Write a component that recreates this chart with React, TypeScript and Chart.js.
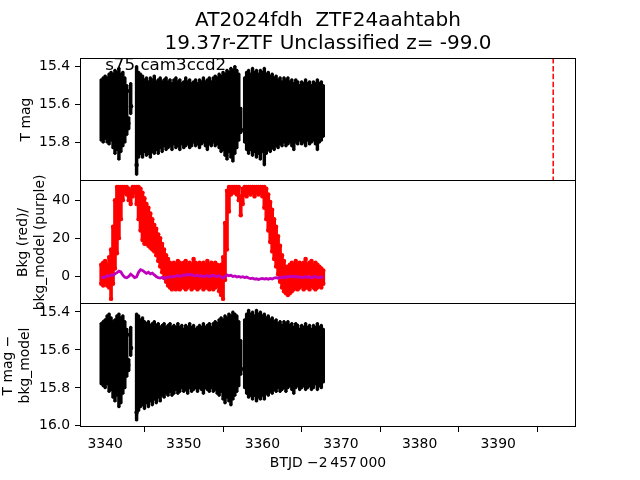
import React, { useEffect, useRef } from 'react';
import { Chart, registerables } from 'chart.js';

Chart.register(...registerables);

const FONT = "'DejaVu Sans', 'Liberation Sans', sans-serif";

// ---------------- text ----------------
const titleLines = ['AT2024fdh  ZTF24aahtabh', '19.37r-ZTF Unclassified z= -99.0'];
const annotationText = 's75 cam3ccd2';
const annotationPos = [3340, 15.42];
const xLabel = 'BTJD \u22122\u2009457\u2009000';
const topYLabel = 'T mag';
const midYLabel = ['Bkg (red)/', 'bkg_model (purple)'];
const botYLabel = ['T mag \u2212', 'bkg_model'];

// ---------------- ticks / ranges ----------------
const xTicks = [3340, 3350, 3360, 3370, 3380, 3390];
const xRange = [3336.8, 3399.9];
const magTicks = [15.4, 15.6, 15.8];
const magRange = [15.356, 16.004];
const bkgTicks = [0, 20, 40];
const bkgRange = [-14.7, 50.1];
const corrTicks = [15.4, 15.6, 15.8, 16.0];
const corrRange = [15.358, 16.006];
const discoveryTime = [3397.0];

// ---------------- data (0.25 d bins) ----------------
const binTimes = [
  3339.5, 3339.75, 3340, 3340.25, 3340.5, 3340.75, 3341, 3341.25, 3341.5, 3341.75,
  3342, 3342.25, 3342.5, 3342.75, 3343, 3343.25, 3343.5, 3343.75, 3344, 3344.25,
  3344.5, 3344.75, 3345, 3345.25, 3345.5, 3345.75, 3346, 3346.25, 3346.5, 3346.75,
  3347, 3347.25, 3347.5, 3347.75, 3348, 3348.25, 3348.5, 3348.75, 3349, 3349.25,
  3349.5, 3349.75, 3350, 3350.25, 3350.5, 3350.75, 3351, 3351.25, 3351.5, 3351.75,
  3352, 3352.25, 3352.5, 3352.75, 3353, 3353.25, 3353.5, 3353.75, 3354, 3354.25,
  3354.5, 3354.75, 3355, 3355.25, 3355.5, 3355.75, 3356, 3356.25, 3356.5, 3356.75,
  3357, 3357.25, 3357.5, 3357.75, 3358, 3358.25, 3358.5, 3358.75, 3359, 3359.25,
  3359.5, 3359.75, 3360, 3360.25, 3360.5, 3360.75, 3361, 3361.25, 3361.5, 3361.75,
  3362, 3362.25, 3362.5, 3362.75, 3363, 3363.25, 3363.5, 3363.75, 3364, 3364.25,
  3364.5, 3364.75, 3365, 3365.25, 3365.5, 3365.75, 3366, 3366.25, 3366.5, 3366.75,
  3367, 3367.25, 3367.5, 3367.75,
];

// T mag: brightest (top edge) and faintest (bottom edge) of error bars per bin
const magBright = [
  15.47, 15.46, 15.45, 15.46, 15.44, 15.43, 15.44, 15.42, 15.43, 15.41, 15.44, 15.43, 15.46, 15.50,
  15.67, 15.49, null, null, 15.40,
  15.43, 15.44, 15.45, 15.47, 15.46, 15.48, 15.46, 15.47, 15.45, 15.48, 15.47, 15.46, 15.48,
  15.47, 15.46, 15.48, 15.47, 15.49, 15.47, 15.46, 15.48, 15.47, 15.49, 15.48, 15.46, 15.48,
  15.47, 15.49, 15.48, 15.47, 15.49, 15.47, 15.48, 15.46, 15.48, 15.47, 15.46, 15.48, 15.46,
  15.45, 15.46, 15.44, 15.45, 15.43, 15.44, 15.42, 15.43, 15.41, 15.42, 15.40, 15.42, 15.44,
  15.62, null,
  15.46, 15.43, 15.42, 15.44, 15.41, 15.43, 15.42, 15.44, 15.42, 15.43, 15.41, 15.44, 15.43,
  15.45, 15.44, 15.46, 15.45, 15.47, 15.46, 15.48, 15.46, 15.47, 15.46, 15.48, 15.47, 15.49,
  15.47, 15.48, 15.50, 15.48, 15.49, 15.47, 15.49, 15.48, 15.50, 15.48, 15.49, 15.47, 15.49,
  15.48, 15.50,
];
const magFaint = [
  15.79, 15.80, 15.78, 15.80, 15.81, 15.79, 15.83, 15.86, 15.84, 15.89, 15.85, 15.82, 15.80, 15.76,
  15.73, 15.65, null, null, 15.97,
  15.88, 15.86, 15.88, 15.85, 15.87, 15.86, 15.88, 15.85, 15.86, 15.84, 15.86, 15.83, 15.85,
  15.82, 15.84, 15.83, 15.82, 15.84, 15.81, 15.83, 15.82, 15.84, 15.81, 15.83, 15.82, 15.81,
  15.83, 15.82, 15.80, 15.82, 15.81, 15.83, 15.81, 15.80, 15.82, 15.84, 15.81, 15.82, 15.80,
  15.82, 15.81, 15.83, 15.85, 15.84, 15.87, 15.89, 15.85, 15.88, 15.90, 15.86, 15.83, 15.79,
  15.75, null,
  15.80, 15.84, 15.86, 15.84, 15.87, 15.85, 15.88, 15.86, 15.89, 15.85, 15.92, 15.86, 15.84,
  15.85, 15.83, 15.84, 15.82, 15.83, 15.81, 15.82, 15.80, 15.82, 15.81, 15.80, 15.82, 15.84,
  15.80, 15.81, 15.79, 15.81, 15.80, 15.82, 15.79, 15.81, 15.80, 15.79, 15.81, 15.84, 15.80,
  15.79, 15.77,
];

// T mag - bkg_model
const corrBright = [
  15.46, 15.45, 15.44, 15.42, 15.41, 15.43, 15.45, 15.44, 15.42, 15.41, 15.43, 15.42, 15.45, 15.49,
  15.65, 15.48, null, null, 15.41,
  15.42, 15.44, 15.43, 15.45, 15.46, 15.45, 15.47, 15.46, 15.45, 15.47, 15.46, 15.48, 15.47,
  15.46, 15.48, 15.47, 15.46, 15.48, 15.47, 15.48, 15.46, 15.48, 15.47, 15.49, 15.47, 15.48,
  15.46, 15.48, 15.47, 15.49, 15.48, 15.47, 15.48, 15.46, 15.48, 15.47, 15.46, 15.48, 15.46,
  15.45, 15.46, 15.44, 15.43, 15.44, 15.42, 15.43, 15.41, 15.42, 15.40, 15.41, 15.42, 15.45,
  15.55, null,
  15.44, 15.41, 15.39, 15.41, 15.40, 15.42, 15.39, 15.41, 15.40, 15.42, 15.41, 15.43, 15.42,
  15.44, 15.43, 15.45, 15.44, 15.46, 15.45, 15.47, 15.45, 15.46, 15.45, 15.47, 15.46, 15.48,
  15.46, 15.47, 15.49, 15.47, 15.48, 15.46, 15.48, 15.47, 15.49, 15.47, 15.48, 15.46, 15.48,
  15.47, 15.49,
];
const corrFaint = [
  15.78, 15.79, 15.80, 15.78, 15.82, 15.81, 15.85, 15.87, 15.84, 15.90, 15.88, 15.83, 15.80, 15.74,
  15.71, 15.63, null, null, 15.97,
  15.92, 15.90, 15.89, 15.91, 15.88, 15.90, 15.87, 15.89, 15.86, 15.88, 15.85, 15.87, 15.84,
  15.85, 15.83, 15.84, 15.82, 15.84, 15.83, 15.81, 15.83, 15.82, 15.80, 15.82, 15.81, 15.83,
  15.80, 15.82, 15.81, 15.80, 15.82, 15.80, 15.81, 15.83, 15.80, 15.81, 15.82, 15.80, 15.82,
  15.81, 15.83, 15.84, 15.82, 15.86, 15.88, 15.85, 15.87, 15.89, 15.86, 15.84, 15.82, 15.79,
  15.73, null,
  15.80, 15.83, 15.85, 15.84, 15.86, 15.84, 15.87, 15.85, 15.86, 15.84, 15.86, 15.83, 15.84,
  15.82, 15.83, 15.81, 15.82, 15.80, 15.82, 15.81, 15.80, 15.82, 15.80, 15.79, 15.81, 15.83,
  15.80, 15.79, 15.81, 15.80, 15.79, 15.81, 15.80, 15.79, 15.81, 15.80, 15.78, 15.81, 15.79,
  15.80, 15.77,
];

// isolated photometry points (marker centres)
const isoTimes = [3342.95, 3343.15, 3343.3, 3344.0, 3357.3];
const isoMag = [15.70, 15.53, 15.61, 15.92, 15.735];
const isoCorr = [15.68, 15.52, 15.59, 15.93, 15.70];

// background flux spread per bin (red) and background model (purple)
const bkgLow = [
  -4, -5, -3, -5, -6, -12, -4, 4, 12, 20,
  30, 40, 44, 43, 40, 38, 42, 44, 38, 30,
  24, 19, 17, 17, 16, 15, 14, 13, 11, 8,
  5, 2, -1, -3, -5, -6, -7, -6, -7, -6,
  -7, -5, -6, -7, -6, -5, -7, -6, -6, -7,
  -6, -5, -7, -6, -6, -7, -6, -7, -6, -5,
  -8, -10, -12, -2, 14, 34, 43, 44, 44, 43,
  40, 32, 38, 43, 42, 44, 43, 44, 42, 44,
  43, 44, 42, 36, 30, 24, 18, 13, 9, 5,
  1, -3, -6, -8, -9, -10, -9, -8, -7, -6,
  -7, -6, -5, -7, -6, -6, -7, -5, -6, -7,
  -6, -5, -6, -4,
];
const bkgHigh = [
  6, 7, 8, 6, 10, 14, 26, 40, 47, 47,
  47, 47, 47, 47, 46, 45, 47, 47, 47, 47,
  46, 44, 41, 38, 36, 33, 30, 27, 25, 22,
  20, 17, 14, 11, 9, 7, 6, 7, 6, 8,
  7, 6, 7, 8, 6, 7, 6, 9, 7, 6,
  7, 6, 7, 6, 8, 6, 7, 6, 7, 6,
  5, 6, 10, 28, 45, 47, 47, 47, 47, 47,
  47, 42, 46, 47, 47, 47, 47, 47, 47, 47,
  47, 47, 47, 47, 46, 43, 39, 35, 30, 26,
  21, 16, 11, 8, 5, 5, 6, 7, 6, 8,
  6, 7, 6, 7, 9, 6, 7, 8, 6, 7,
  6, 5, 4, 3,
];
const bkgModel = [
  -0.8, -0.5, -0.6, 0.2, 0.0, 0.6, 0.4, 1.2, 1.8, 2.6,
  2.2, 0.5, -0.6, -0.9, -0.2, 1.0, 0.2, -0.8, -0.4, 2.0,
  3.4, 3.0, 2.2, 1.4, 2.0, 1.2, 1.6, 0.6, -0.2, -0.8,
  -1.0, -0.6, -1.2, -0.8, -0.6, -0.3, -0.5, -0.1, 0.0, 0.3,
  -0.2, 0.2, 0.6, 0.4, 0.9, 0.5, 0.8, 0.3, 0.1, 0.4,
  -0.1, 0.2, -0.2, 0.0, 0.3, -0.3, 0.1, 0.4, 0.0, -0.2,
  0.3, -0.4, -1.0, -0.3, 0.6, 0.2, 0.4, -0.2, 0.1, -0.5,
  -0.2, -0.6, -0.3, -0.8, -0.5, -1.0, -1.3, -1.1, -1.6, -1.4,
  -1.8, -1.5, -1.2, -1.6, -1.3, -1.7, -1.2, -1.5, -1.0, -0.8,
  -1.1, -0.6, -0.9, -0.4, -0.7, -0.2, -0.5, 0.0, -0.4, -0.1,
  -0.6, -0.3, -0.8, -0.5, -0.2, -0.7, -0.4, -0.9, -0.5, -0.2,
  -0.6, -0.9, -0.5, -0.7,
];

// ---------------- helpers ----------------
type Num = number | null;

function floatingBars(lo: Num[], hi: Num[]) {
  const out: { x: number; y: [number, number] }[] = [];
  binTimes.forEach((t, i) => {
    const a = lo[i];
    const b = hi[i];
    if (a == null || b == null) return;
    out.push({ x: t, y: [a, b] });
  });
  return out;
}

function tipPoints(lo: Num[], hi: Num[]) {
  const out: { x: number; y: number }[] = [];
  binTimes.forEach((t, i) => {
    const a = lo[i];
    const b = hi[i];
    if (a != null) out.push({ x: t, y: a });
    if (b != null) out.push({ x: t, y: b });
  });
  return out;
}

function xyPoints(xs: number[], ys: number[]) {
  return xs.map((x, i) => ({ x, y: ys[i] }));
}

const tickFont = { family: FONT, size: 13.9 };

function xScale(show: boolean) {
  return {
    type: 'linear',
    min: xRange[0],
    max: xRange[1],
    display: show,
    offset: false,
    grid: { display: true, drawOnChartArea: false, drawTicks: true, tickLength: 5, tickWidth: 1, tickColor: '#000' },
    border: { display: false },
    ticks: { color: '#000', font: tickFont, padding: 4, maxRotation: 0, autoSkip: false, callback: (v: number) => String(v) },
    afterBuildTicks: (s: any) => { s.ticks = xTicks.map((v) => ({ value: v })); },
    afterFit: (s: any) => { if (show) s.height = 53; s.paddingLeft = 0; s.paddingRight = 0; },
    title: {
      display: show,
      text: xLabel,
      color: '#000',
      font: { family: FONT, size: 13.9, lineHeight: 1.223 },
      padding: { top: 0, bottom: 8 },
    },
  };
}

function yScale(range: number[], reverse: boolean, ticks: number[], digits: number, label: string | string[], padTop: number) {
  return {
    type: 'linear',
    position: 'left',
    min: range[0],
    max: range[1],
    reverse,
    grid: { display: true, drawOnChartArea: false, drawTicks: true, tickLength: 5, tickWidth: 1, tickColor: '#000' },
    border: { display: false },
    ticks: { color: '#000', font: tickFont, padding: 5, autoSkip: false, callback: (v: number) => v.toFixed(digits) },
    afterBuildTicks: (s: any) => { s.ticks = ticks.map((v) => ({ value: v })); },
    afterFit: (s: any) => { s.width = 80; s.paddingTop = 0; s.paddingBottom = 0; },
    title: {
      display: true,
      text: label,
      color: '#000',
      font: { family: FONT, size: 13.9, lineHeight: 1.223 },
      padding: { top: padTop, bottom: 0 },
    },
  };
}

function framePlugin(drawTop: boolean) {
  return {
    id: 'frame' + (drawTop ? 'T' : 'N'),
    afterDraw(chart: any) {
      const { ctx, chartArea } = chart;
      const l = Math.round(chartArea.left);
      const r = Math.round(chartArea.right);
      const t = Math.round(chartArea.top);
      const b = Math.round(chartArea.bottom);
      ctx.save();
      ctx.strokeStyle = '#000';
      ctx.lineWidth = 1;
      ctx.beginPath();
      if (drawTop) { ctx.moveTo(l, t + 0.5); ctx.lineTo(r, t + 0.5); }
      ctx.moveTo(l + 0.5, t); ctx.lineTo(l + 0.5, b);
      ctx.moveTo(r - 0.5, t); ctx.lineTo(r - 0.5, b);
      ctx.moveTo(l, b - 0.5); ctx.lineTo(r, b - 0.5);
      ctx.stroke();
      ctx.restore();
    },
  };
}

const annotationPlugin = {
  id: 'sectorLabel',
  afterDraw(chart: any) {
    const { ctx, scales } = chart;
    const x = scales.x.getPixelForValue(annotationPos[0]);
    const y = scales.y.getPixelForValue(annotationPos[1]);
    ctx.save();
    ctx.font = `16.7px ${FONT}`;
    ctx.fillStyle = '#000';
    ctx.textAlign = 'left';
    ctx.textBaseline = 'alphabetic';
    ctx.fillText(annotationText, x, y);
    ctx.restore();
  },
};

const baseOptions = {
  responsive: false,
  animation: false,
  devicePixelRatio: 1,
  events: [],
};

function photometryDatasets(times: number[], iso: number[], lo: Num[], hi: Num[]) {
  return [
    {
      type: 'scatter',
      data: xyPoints(times, iso),
      pointRadius: 2.2,
      pointBackgroundColor: '#000',
      pointBorderWidth: 0,
    },
    {
      type: 'scatter',
      data: tipPoints(lo, hi),
      pointRadius: 1.4,
      pointBackgroundColor: '#000',
      pointBorderWidth: 0,
    },
    {
      type: 'bar',
      data: floatingBars(lo, hi),
      backgroundColor: '#000',
      borderWidth: 0,
      barThickness: 2.8,
    },
  ];
}

function topConfig(): any {
  return {
    type: 'bar',
    data: {
      datasets: [
        ...photometryDatasets(isoTimes, isoMag, magBright, magFaint),
        {
          type: 'line',
          data: [
            { x: discoveryTime[0], y: magRange[0] },
            { x: discoveryTime[0], y: magRange[1] },
          ],
          borderColor: '#ff0000',
          borderWidth: 1.5,
          borderDash: [5.5, 2.4],
          pointRadius: 0,
        },
      ],
    },
    options: {
      ...baseOptions,
      layout: { padding: { left: 0, right: 64, top: 0, bottom: 299 } },
      plugins: {
        legend: { display: false },
        tooltip: { enabled: false },
        title: {
          display: true,
          text: titleLines,
          fullSize: false,
          color: '#000',
          font: { family: FONT, size: 20, weight: 'normal', lineHeight: 1.15 },
          padding: { top: 9, bottom: 3 },
        },
      },
      scales: {
        x: xScale(false),
        y: yScale(magRange, true, magTicks, 1, topYLabel, 17.5),
      },
    },
    plugins: [framePlugin(true), annotationPlugin],
  };
}

function midConfig(): any {
  return {
    type: 'bar',
    data: {
      datasets: [
        {
          type: 'line',
          data: xyPoints(binTimes, bkgModel),
          borderColor: '#bf00bf',
          borderWidth: 2.8,
          pointRadius: 0,
          tension: 0,
        },
        {
          type: 'scatter',
          data: tipPoints(bkgLow, bkgHigh),
          pointRadius: 2.2,
          pointBackgroundColor: '#ff0000',
          pointBorderWidth: 0,
        },
        {
          type: 'bar',
          data: floatingBars(bkgLow, bkgHigh),
          backgroundColor: '#ff0000',
          borderWidth: 0,
          barThickness: 3,
        },
      ],
    },
    options: {
      ...baseOptions,
      layout: { padding: { left: 0, right: 64, top: 181, bottom: 176 } },
      plugins: { legend: { display: false }, tooltip: { enabled: false }, title: { display: false } },
      scales: {
        x: xScale(false),
        y: yScale(bkgRange, false, bkgTicks, 0, midYLabel, 14.5),
      },
    },
    plugins: [framePlugin(false)],
  };
}

function botConfig(): any {
  return {
    type: 'bar',
    data: {
      datasets: photometryDatasets(isoTimes, isoCorr, corrBright, corrFaint),
    },
    options: {
      ...baseOptions,
      layout: { padding: { left: 0, right: 64, top: 304, bottom: 0 } },
      plugins: { legend: { display: false }, tooltip: { enabled: false }, title: { display: false } },
      scales: {
        x: xScale(true),
        y: yScale(corrRange, true, corrTicks, 1, botYLabel, 0),
      },
    },
    plugins: [framePlugin(false)],
  };
}

const canvasStyle: React.CSSProperties = { position: 'absolute', left: 0, top: 0, width: 640, height: 480 };

export default function App() {
  const topRef = useRef<HTMLCanvasElement>(null);
  const midRef = useRef<HTMLCanvasElement>(null);
  const botRef = useRef<HTMLCanvasElement>(null);

  useEffect(() => {
    const charts: Chart[] = [];
    if (topRef.current) charts.push(new Chart(topRef.current, topConfig()));
    if (midRef.current) charts.push(new Chart(midRef.current, midConfig()));
    if (botRef.current) charts.push(new Chart(botRef.current, botConfig()));
    return () => charts.forEach((c) => c.destroy());
  }, []);

  return (
    <div style={{ position: 'absolute', left: 0, top: 0, width: 640, height: 480, background: '#fff' }}>
      <canvas ref={botRef} width={640} height={480} style={canvasStyle} />
      <canvas ref={midRef} width={640} height={480} style={canvasStyle} />
      <canvas ref={topRef} width={640} height={480} style={canvasStyle} />
    </div>
  );
}
